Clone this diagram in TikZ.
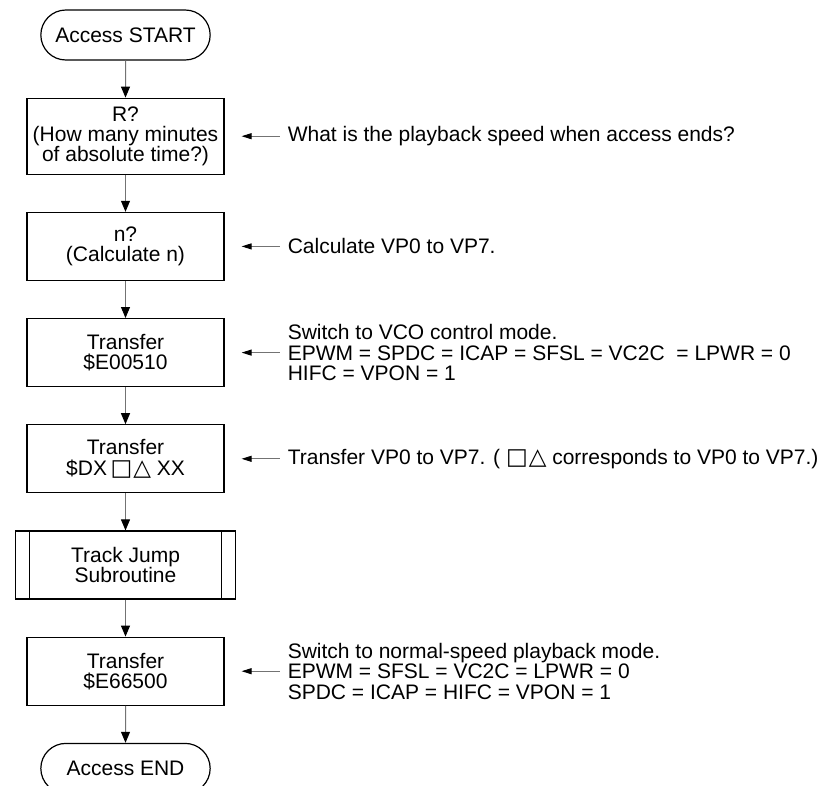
\documentclass[tikz,border=0pt]{standalone}
\usepackage{fontspec}
\setmainfont{Liberation Sans}
\newfontfamily\symfont{DejaVu Sans}
\newcommand{\sqtri}{{\symfont\fontsize{23}{19}\selectfont □\kern1pt△}}
\usetikzlibrary{positioning, arrows.meta, shapes.misc}

\begin{document}
\begin{tikzpicture}[
    x=1pt, y=-1pt,
    every node/.style={font=\fontsize{21}{20}\selectfont, align=center},
    box/.style={draw, line width=1.2pt, minimum width=197pt, minimum height=68pt, inner sep=2pt},
    term/.style={draw, rounded rectangle, line width=1.2pt, minimum width=176pt, minimum height=50pt},
    subr/.style={box, minimum width=220pt},
    note/.style={align=left, inner sep=0pt, font=\fontsize{21}{20.5}\selectfont},
    flow/.style={draw=black!55, line width=1pt, -{Triangle[length=11pt, width=9pt, color=black]}},
    ptr/.style={draw=black!55, line width=1pt, -{Triangle[length=10pt, width=6pt, color=black]}},
    node distance=37pt
]
\useasboundingbox (0,0) rectangle (838,785);

% main flow
\node[term] (start) at (125.5,35) {Access START};
\node[box, minimum height=76pt, below=of start] (askR) {R?\\(How many minutes\\of absolute time?)};
\node[box, below=of askR] (askN) {n?\\(Calculate n)};
\node[box, below=of askN] (xferA) {Transfer\\\$E00510};
\node[box, below=of xferA] (xferB) {Transfer\\[1pt]\$DX\,\sqtri\ XX};
\node[subr, below=of xferB] (jump) {Track Jump\\Subroutine};
\node[box, below=of jump] (xferC) {Transfer\\\$E66500};
\node[term, below=of xferC] (stop) {Access END};

\draw[line width=1pt] ([xshift=15pt]jump.north west) -- ([xshift=15pt]jump.south west);
\draw[line width=1pt] ([xshift=-15pt]jump.north east) -- ([xshift=-15pt]jump.south east);

\draw[flow] (start) -- (askR);
\draw[flow] (askR) -- (askN);
\draw[flow] (askN) -- (xferA);
\draw[flow] (xferA) -- (xferB);
\draw[flow] (xferB) -- (jump);
\draw[flow] (jump) -- (xferC);
\draw[flow] (xferC) -- (stop);

% comments
\node[note, right=63pt of askR] (noteR) {What is the playback speed when access ends?};
\node[note, right=63pt of askN] (noteN) {Calculate VP0 to VP7.};
\node[note, right=63pt of xferA] (noteA) {Switch to VCO control mode.\\EPWM = SPDC = ICAP = SFSL = VC2C \ = LPWR = 0\\HIFC = VPON = 1};
\node[note, right=63pt of xferB] (noteB) {Transfer VP0 to VP7. ( \sqtri\ corresponds to VP0 to VP7.)};
\node[note, right=63pt of xferC] (noteC) {Switch to normal-speed playback mode.\\EPWM = SFSL = VC2C = LPWR = 0\\SPDC = ICAP = HIFC = VPON = 1};

\draw[ptr] ([xshift=-8pt]noteR.west) -- ([xshift=17pt]askR.east);
\draw[ptr] ([xshift=-8pt]noteN.west) -- ([xshift=17pt]askN.east);
\draw[ptr] ([xshift=-8pt]noteA.west) -- ([xshift=17pt]xferA.east);
\draw[ptr] ([xshift=-8pt]noteB.west) -- ([xshift=17pt]xferB.east);
\draw[ptr] ([xshift=-8pt]noteC.west) -- ([xshift=17pt]xferC.east);
\end{tikzpicture}
\end{document}
